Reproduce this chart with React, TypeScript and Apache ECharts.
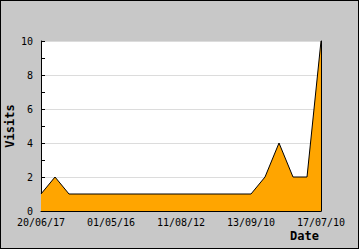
import React, { useEffect, useRef } from "react";
import * as echarts from "echarts";

const visits = [1, 2, 1, 1, 1, 1, 1, 1, 1, 1, 1, 1, 1, 1, 1, 1, 2, 4, 2, 2, 10];
const dateLabels = ["20/06/17", "01/05/16", "11/08/12", "13/09/10", "17/07/10"];
const labelStep = 5;
const yTicks = [0, 2, 4, 6, 8, 10];

const FONT = "'DejaVu Sans Mono', monospace";

export default function App() {
  const ref = useRef<HTMLDivElement>(null);
  useEffect(() => {
    if (!ref.current) return;
    const chart = echarts.init(ref.current, undefined, { renderer: "svg" });
    const points = visits.map((v, i) => [i, v]);
    chart.setOption({
      animation: false,
      backgroundColor: "#c8c8c8",
      grid: {
        left: 41,
        top: 41,
        right: 39,
        bottom: 39,
        show: true,
        backgroundColor: "#ffffff",
        borderWidth: 0,
        containLabel: false,
        outerBoundsMode: "none",
      },
      xAxis: {
        type: "value",
        min: 0,
        max: visits.length - 1,
        interval: labelStep,
        axisLine: { show: true, onZero: false, lineStyle: { color: "#000", width: 1 } },
        axisTick: { show: true, inside: true, length: 5, lineStyle: { color: "#000" } },
        axisLabel: {
          color: "#000",
          fontFamily: FONT,
          fontSize: 10,
          margin: 6,
          showMinLabel: true,
          showMaxLabel: true,
          hideOverlap: false,
          formatter: (v: number) => (v % labelStep === 0 ? dateLabels[v / labelStep] ?? "" : ""),
        },
        splitLine: { show: false },
      },
      yAxis: [
        {
          type: "value",
          min: yTicks[0],
          max: yTicks[yTicks.length - 1],
          interval: yTicks[1] - yTicks[0],
          name: "Visits",
          nameLocation: "middle",
          nameRotate: 90,
          nameGap: 25,
          nameMoveOverlap: false,
          nameTextStyle: { color: "#000", fontFamily: FONT, fontSize: 12, fontWeight: "bold" },
          axisLine: { show: true, lineStyle: { color: "#000", width: 1 } },
          axisTick: { show: true, inside: true, length: 4, lineStyle: { color: "#000" } },
          minorTick: { show: true, splitNumber: 2, length: 4, lineStyle: { color: "#000" } },
          axisLabel: { color: "#000", fontFamily: FONT, fontSize: 10, margin: 8 },
          splitLine: { show: true, lineStyle: { color: "#dcdcdc", width: 1 } },
        },
        {
          type: "value",
          position: "right",
          min: yTicks[0],
          max: yTicks[yTicks.length - 1],
          axisLine: { show: true, lineStyle: { color: "#000", width: 1 } },
          axisTick: { show: false },
          axisLabel: { show: false },
          splitLine: { show: false },
        },
      ],
      graphic: [
        {
          type: "text",
          right: 41,
          top: 230,
          style: { text: "Date", fill: "#000", font: `bold 12px ${FONT}` },
        },
      ],
      series: [
        {
          type: "line",
          data: points,
          symbol: "none",
          lineStyle: { color: "#000", width: 1 },
          areaStyle: { color: "#ffa500", opacity: 1 },
        },
      ],
    });
    return () => chart.dispose();
  }, []);
  return (
    <div style={{ position: "fixed", left: 0, top: 0, width: 360, height: 250, background: "#fff" }}>
      <div
        style={{
          position: "absolute",
          left: 0,
          top: 0,
          width: 357,
          height: 247,
          border: "1px solid #000",
          overflow: "hidden",
        }}
      >
        <div ref={ref} style={{ position: "absolute", left: -1, top: -1, width: 360, height: 250 }} />
      </div>
    </div>
  );
}
